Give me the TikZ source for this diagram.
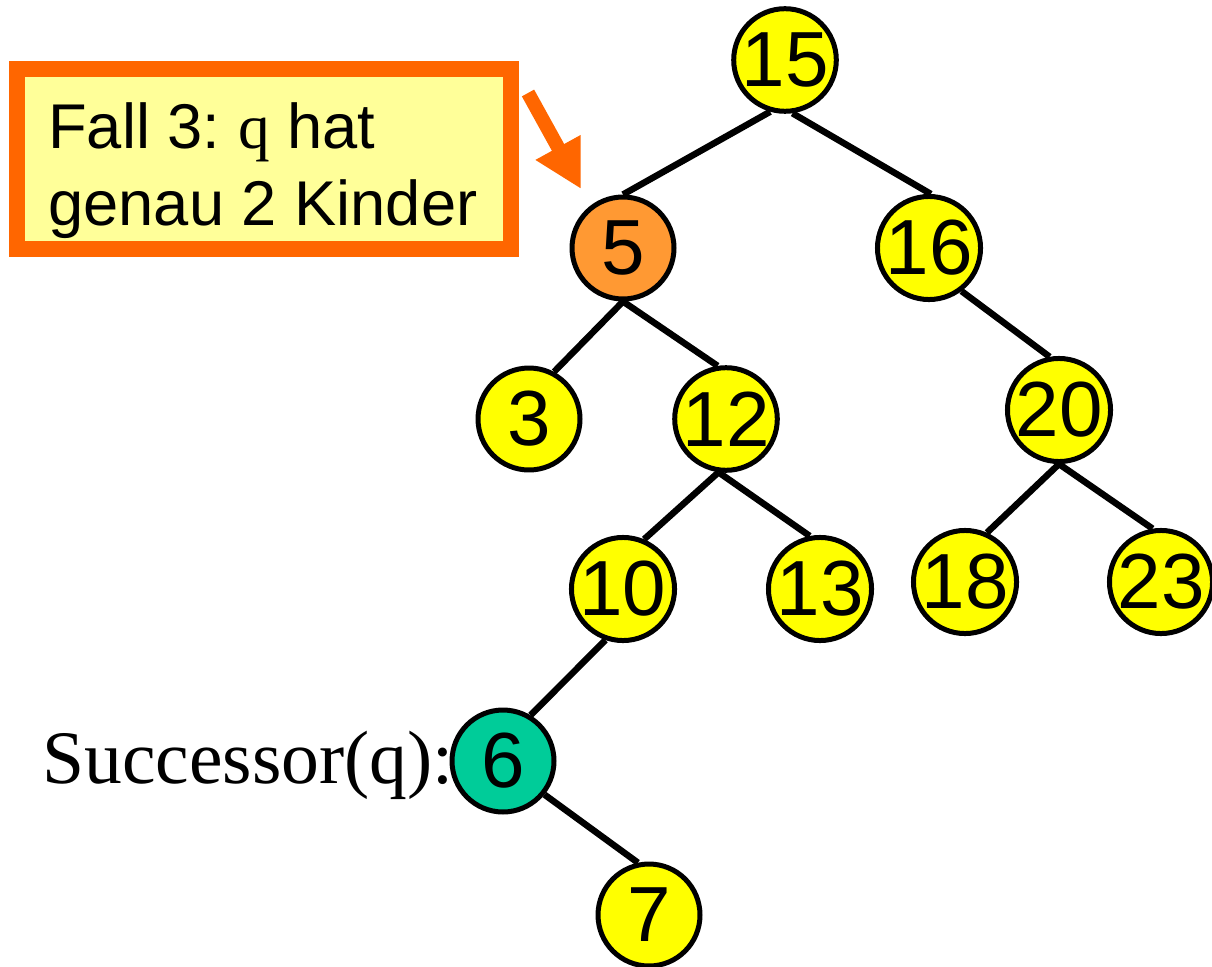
\documentclass[tikz,border=0pt]{standalone}
\usepackage{fontspec}
\setmainfont{Liberation Sans}
\newfontfamily\serifq{Liberation Serif}
\usetikzlibrary{arrows.meta}
\frenchspacing
\definecolor{nodeyellow}{HTML}{FFFF00}
\definecolor{nodeorange}{HTML}{FF9933}
\definecolor{nodeteal}{HTML}{00CC99}
\definecolor{boxfill}{HTML}{FFFF99}
\definecolor{boxborder}{HTML}{FF6600}
\tikzset{
  treenode/.style={circle, draw=black, line width=0.1cm, fill=nodeyellow,
    minimum size=2.04cm, inner sep=0pt, font=\fontsize{44.5}{50}\selectfont},
  edge/.style={draw=black, line width=0.13cm},
  notebox/.style={rectangle, draw=boxborder, fill=boxfill, line width=0.32cm,
    minimum width=9.89cm, minimum height=3.6cm, inner sep=0pt},
  notetext/.style={anchor=base west, inner sep=0pt,
    font=\frenchspacing\fontsize{36}{43.8}\selectfont},
  pointer/.style={draw=boxborder, line width=0.28cm,
    -{Triangle[length=0.95cm, width=0.96cm]}},
}
\begin{document}
\begin{tikzpicture}[x=0.02cm, y=-0.02cm]
\useasboundingbox (0,0) rectangle (1212,966);
% note box
\node[notebox] (box) at (263.75,159) {};
\node[notetext] (boxtxt) at (48,149) {\vtop{\hbox{Fall 3: {\serifq q} hat}\hbox{genau 2 Kinder}}};
\coordinate (arrtail) at (528,93);
\coordinate (arrtip) at (581,189);
\draw[pointer] (arrtail) -- (arrtip);
% tree nodes
\node[treenode] (n15) at (785,60) {15};
\node[treenode, fill=nodeorange] (n5) at (623,248) {5};
\node[treenode] (n16) at (929,248) {16};
\node[treenode] (n3) at (529,419) {3};
\node[treenode] (n12) at (726,419) {12};
\node[treenode] (n20) at (1059,410) {20};
\node[treenode] (n10) at (623,589) {10};
\node[treenode] (n13) at (820,589) {13};
\node[treenode] (n18) at (965,582) {18};
\node[treenode] (n23) at (1161,582) {23};
\node[treenode, fill=nodeteal] (n6) at (503,761) {6};
\node[treenode] (n7) at (649,915) {7};
% successor label
\node[anchor=base west, inner sep=0pt, font=\serifq\fontsize{43}{50}\selectfont] (succ) at (42,783) {Successor(q):};
% edges
\draw[edge] (n15.-106) -- (n5.north);
\draw[edge] (n15.-82) -- (n16.88);
\draw[edge] (n5.south) -- (n3.62);
\draw[edge] (n5.south) -- (n12.99);
\draw[edge] (n12.-98) -- (n10.67);
\draw[edge] (n12.-98) -- (n13.101);
\draw[edge] (n16.-53) -- (n20.100);
\draw[edge] (n20.south) -- (n18.66);
\draw[edge] (n20.south) -- (n23.99);
\draw[edge] (n10.-109) -- (n6.59);
\draw[edge] (n6.-39) -- (n7.102);
\end{tikzpicture}
\end{document}
